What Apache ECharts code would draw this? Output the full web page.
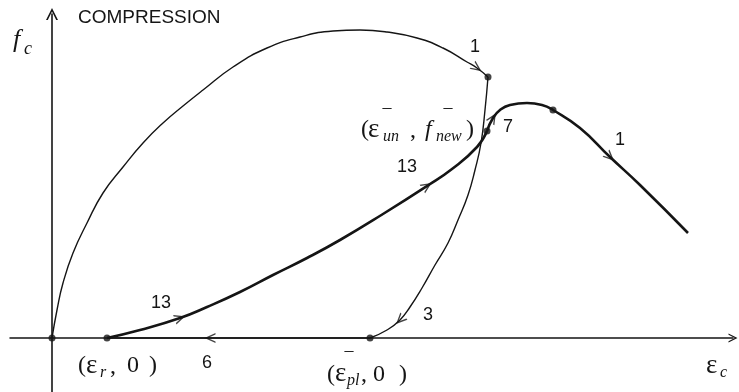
<!DOCTYPE html>
<html>
<head>
<meta charset="utf-8">
<script src="https://cdn.jsdelivr.net/npm/echarts@6/dist/echarts.min.js"></script>
<style>
  html, body { margin: 0; padding: 0; background: #fff; }
  #chart { width: 739px; height: 392px; }
</style>
</head>
<body>
<div id="chart"></div>
<script>
// Concrete in compression: strain εc (x10^-3) against stress fc (MPa), one hysteresis cycle.

// Rule 1 - loading branch from the origin up to the unloading point
const loadingPath = [
  [0, 0], [0.05, 2.8], [0.11, 5.5], [0.21, 8.5], [0.35, 11.5], [0.51, 14.5],
  [0.71, 17.1], [0.91, 19.5], [1.11, 21.5], [1.31, 23.2], [1.51, 24.8],
  [1.81, 27.1], [2.15, 29.0], [2.48, 30.1], [2.81, 30.7], [3.08, 30.8],
  [3.35, 30.6], [3.65, 30.0], [3.91, 29.0], [4.15, 27.6], [4.25, 27.0],
  [4.36, 26.1]
];

// Rule 3 - unloading down to the plastic strain
const unloadingPath = [
  [4.36, 26.1], [4.33, 22.8], [4.29, 19.5], [4.23, 16.8], [4.16, 14.3],
  [4.06, 11.8], [3.96, 9.5], [3.83, 7.3], [3.70, 5.0], [3.58, 3.1],
  [3.48, 1.8], [3.35, 0.8], [3.18, 0]
];

// Rule 6 - zero-stress path from the plastic strain back to the residual strain
const zeroStressPath = [[3.18, 0], [1.58, 0], [0.55, 0]];

// Rule 13 - reloading from the residual strain to (εun, fnew)
const reloadingPath = [
  [0.55, 0], [0.88, 0.8], [1.28, 2.0], [1.55, 3.1], [1.88, 4.6], [2.21, 6.3],
  [2.55, 8.0], [2.88, 9.8], [3.31, 12.4], [3.75, 15.2], [4.00, 16.9],
  [4.25, 19.1], [4.35, 20.7]
];

// Rule 7 rejoining the envelope, then rule 1 along the softening branch
const envelopePath = [
  [4.35, 20.7], [4.41, 22.0], [4.48, 22.8], [4.58, 23.3], [4.75, 23.5],
  [4.90, 23.3], [5.01, 22.8], [5.28, 21.0], [5.58, 18.1], [5.88, 15.3],
  [6.36, 10.5]
];

// Key states marked with a dot
const keyStates = [
  loadingPath[0], reloadingPath[0], unloadingPath[unloadingPath.length - 1],
  loadingPath[loadingPath.length - 1], reloadingPath[reloadingPath.length - 1],
  envelopePath[6]
];

// Direction arrows: [path, index of the point carrying the arrow]
const arrowMarks = [
  [loadingPath, 20],
  [unloadingPath, 10],
  [zeroStressPath, 1],
  [reloadingPath, 2],
  [reloadingPath, 9],
  [envelopePath, 1],
  [envelopePath, 8]
];

const INK = '#151515';
const CHEVRON = 'path://M0,10L5,0L10,10L8.5,10L5,3L1.5,10Z';
const SANS = '"Liberation Sans", Arial, sans-serif';
const SERIF = '"Liberation Serif", "Times New Roman", serif';

function txt(text, x, y, font, align) {
  return {
    type: 'text', x: x, y: y, silent: true, z: 10,
    style: { text: text, font: font, fill: INK, align: align || 'left', verticalAlign: 'middle' }
  };
}

const big = '24px ' + SERIF;
const eps = '27px ' + SERIF;
const sub = 'italic 16px ' + SERIF;
const num = '18px ' + SANS;
const bar = '18px ' + SERIF;

const notes = [
  txt('COMPRESSION', 78, 18, '19px ' + SANS),
  txt('f', 13, 40, 'italic 26px ' + SERIF),
  txt('c', 24, 49, 'italic 18px ' + SERIF),

  txt('1', 475, 47, num, 'center'),
  txt('7', 508, 127, num, 'center'),
  txt('13', 407, 167, num, 'center'),
  txt('13', 161, 303, num, 'center'),
  txt('3', 428, 315, num, 'center'),
  txt('6', 207, 363, num, 'center'),
  txt('1', 620, 140, num, 'center'),

  // (εun⁻ , fnew⁻)
  txt('(', 361, 130, big),
  txt('ε', 368, 130, eps),
  txt('un', 383, 137, sub),
  txt('–', 387, 108, bar, 'center'),
  txt(',', 410, 131, big),
  txt('f', 425, 130, 'italic 24px ' + SERIF),
  txt('new', 436, 137, sub),
  txt('–', 448, 108, bar, 'center'),
  txt(')', 466, 130, big),

  // (εr , 0)
  txt('(', 78, 366, big),
  txt('ε', 86, 366, eps),
  txt('r', 100, 373, sub),
  txt(',', 110, 367, big),
  txt('0', 127, 366, big),
  txt(')', 149, 366, big),

  // (εpl⁻ , 0)
  txt('(', 327, 375, big),
  txt('ε', 335, 374, eps),
  txt('pl', 347, 381, sub),
  txt('–', 349, 351, bar, 'center'),
  txt(',', 361, 375, big),
  txt('0', 373, 375, big),
  txt(')', 399, 375, big),

  // εc
  txt('ε', 706, 366, eps),
  txt('c', 720, 373, sub)
];

function curve(name, data, width) {
  return {
    name: name, type: 'line', data: data, showSymbol: false, smooth: 0.5,
    lineStyle: { color: INK, width: width }, silent: true, z: 3
  };
}

function buildOption(arrowData) {
  return {
    animation: false,
    backgroundColor: '#fff',
    grid: { left: 10, right: 6, top: 14, bottom: 0, containLabel: false, outerBoundsMode: 'none' },
    xAxis: {
      type: 'value', min: -0.42, max: 6.81,
      axisLine: { onZero: true, symbol: ['none', CHEVRON], symbolSize: [9, 10], lineStyle: { color: INK, width: 1.5 } },
      axisTick: { show: false }, axisLabel: { show: false }, splitLine: { show: false }
    },
    yAxis: {
      type: 'value', min: -5.4, max: 32.4,
      axisLine: { onZero: true, symbol: ['none', CHEVRON], symbolSize: [12, 12], lineStyle: { color: INK, width: 1.6 } },
      axisTick: { show: false }, axisLabel: { show: false }, splitLine: { show: false }
    },
    series: [
      curve('loading', loadingPath, 1.4),
      curve('unloading', unloadingPath, 1.4),
      curve('zero stress', zeroStressPath, 1.4),
      curve('reloading', reloadingPath, 2.6),
      curve('envelope', envelopePath, 2.6),
      {
        name: 'states', type: 'scatter', data: keyStates, symbol: 'circle', symbolSize: 7,
        itemStyle: { color: INK }, silent: true, z: 5
      },
      {
        name: 'arrows', type: 'scatter', data: arrowData, symbol: CHEVRON, symbolSize: [10, 11],
        itemStyle: { color: INK }, silent: true, z: 6
      }
    ],
    graphic: notes
  };
}

const chart = echarts.init(document.getElementById('chart'));
chart.setOption(buildOption([]));

// Arrowheads follow the local direction of their path in screen space
const arrowData = arrowMarks.map(function (m) {
  const pts = m[0], i = m[1];
  const a = chart.convertToPixel({ gridIndex: 0 }, pts[Math.max(i - 1, 0)]);
  const b = chart.convertToPixel({ gridIndex: 0 }, pts[Math.min(i + 1, pts.length - 1)]);
  const phi = Math.atan2(-(b[1] - a[1]), b[0] - a[0]) * 180 / Math.PI;
  return { value: pts[i], symbolRotate: phi - 90 };
});

chart.setOption(buildOption(arrowData), true);
</script>
</body>
</html>
